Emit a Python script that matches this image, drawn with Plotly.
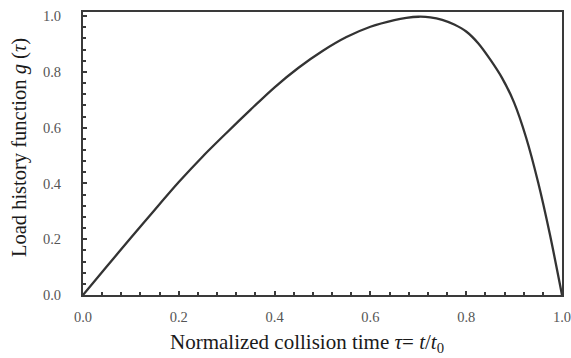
import plotly.graph_objects as go

tau = [0.0, 0.05, 0.1, 0.15, 0.2, 0.25, 0.3, 0.35, 0.4, 0.45, 0.5, 0.55, 0.6, 0.65,
       0.675, 0.7, 0.725, 0.75, 0.775, 0.8, 0.825, 0.85, 0.875, 0.9, 0.925, 0.95, 0.975, 1.0]
g = [0.0, 0.103, 0.205, 0.306, 0.405, 0.497, 0.582, 0.665, 0.745, 0.815, 0.875, 0.925,
     0.962, 0.986, 0.994, 0.998, 0.996, 0.987, 0.97, 0.945, 0.903, 0.845, 0.778, 0.69,
     0.565, 0.405, 0.215, 0.0]

x_ticks = [0.0, 0.2, 0.4, 0.6, 0.8, 1.0]
y_ticks = [0.0, 0.2, 0.4, 0.6, 0.8, 1.0]
x_labels = ["0.0", "0.2", "0.4", "0.6", "0.8", "1.0"]
y_labels = ["0.0", "0.2", "0.4", "0.6", "0.8", "1.0"]

fig = go.Figure()
fig.add_trace(go.Scatter(x=tau, y=g, mode="lines",
                         line=dict(color="#333333", width=2.3, shape="spline", smoothing=0.8),
                         showlegend=False, hoverinfo="skip"))

font_fam = "Liberation Serif, Times New Roman, serif"
axis_common = dict(
    showline=True, linecolor="#3a3a3a", linewidth=2, mirror=True,
    ticks="inside", ticklen=4, tickwidth=1.5, tickcolor="#3a3a3a",
    showgrid=False, zeroline=False, automargin=False, ticklabeloverflow="allow",
    tickfont=dict(family=font_fam, size=14.5, color="#555555"),
    minor=dict(ticks="inside", ticklen=3, tickwidth=1.5, tickcolor="#3a3a3a", dtick=0.04, showgrid=False),
)

fig.update_xaxes(range=[0, 1.0], tickvals=x_ticks, ticktext=x_labels,
                 ticklabelstandoff=8, **axis_common)
fig.update_yaxes(range=[0, 1.015], tickvals=y_ticks, ticktext=y_labels,
                 ticklabelstandoff=17, **axis_common)

fig.add_annotation(text="Load history function <i>g</i> (<i>τ</i>)",
                   xref="paper", yref="paper", x=-0.131, y=0.52, textangle=-90,
                   xanchor="center", yanchor="middle", showarrow=False,
                   font=dict(family=font_fam, size=20.5, color="#1a1a1a"))
fig.add_annotation(text="Normalized collision time <i>τ</i>= <i>t</i>/<i>t</i><sub>0</sub>",
                   xref="paper", yref="paper", x=0.4676, y=-0.17,
                   xanchor="center", yanchor="middle", showarrow=False,
                   font=dict(family=font_fam, size=21, color="#1a1a1a"))

fig.update_layout(width=571, height=358, margin=dict(l=83, r=9, t=12, b=63),
                  plot_bgcolor="white", paper_bgcolor="white")

fig.write_html("out.html")
